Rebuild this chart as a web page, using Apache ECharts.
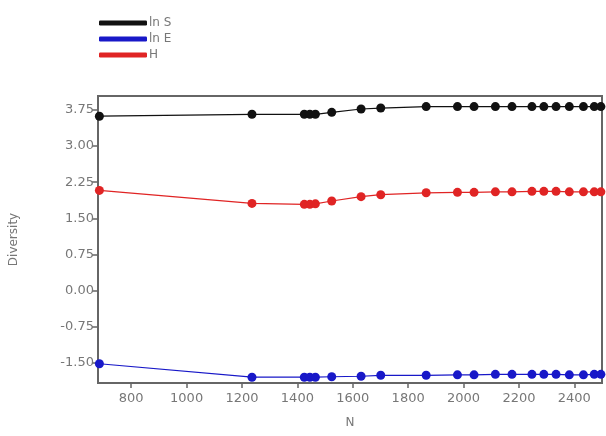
<!DOCTYPE html>
<html>
<head>
<meta charset="utf-8">
<script src="https://cdn.jsdelivr.net/npm/echarts@6/dist/echarts.min.js"></script>
<style>
  html, body { margin: 0; padding: 0; background: #fff; }
  #chart { width: 606px; height: 436px; }
</style>
</head>
<body>
<div id="chart"></div>
<script>
// N values (x axis)
const nValues = [685, 1236, 1425, 1445, 1465, 1524, 1630, 1701, 1865, 1978, 2038, 2115, 2175, 2247, 2290, 2334, 2382, 2433, 2472, 2496];
// series values
const lnS = [3.62, 3.66, 3.66, 3.66, 3.66, 3.70, 3.77, 3.79, 3.82, 3.82, 3.82, 3.82, 3.82, 3.82, 3.82, 3.82, 3.82, 3.82, 3.82, 3.82];
const lnE = [-1.52, -1.80, -1.80, -1.80, -1.80, -1.79, -1.78, -1.76, -1.76, -1.75, -1.75, -1.74, -1.74, -1.74, -1.74, -1.74, -1.75, -1.75, -1.74, -1.74];
const hValues = [2.08, 1.81, 1.79, 1.79, 1.80, 1.86, 1.95, 1.99, 2.03, 2.04, 2.04, 2.05, 2.05, 2.06, 2.06, 2.06, 2.05, 2.05, 2.05, 2.05];
const seriesNames = ['ln S', 'ln E', 'H'];
// tick labels
const xTicks = [800, 1000, 1200, 1400, 1600, 1800, 2000, 2200, 2400];
const yTicks = [-1.5, -0.75, 0, 0.75, 1.5, 2.25, 3.0, 3.75];

const pairs = vals => nValues.map((n, i) => [n, vals[i]]);

const chart = echarts.init(document.getElementById('chart'));

function lineSeries(name, vals, color) {
  return {
    name: name,
    type: 'line',
    data: pairs(vals),
    symbol: 'circle',
    symbolSize: 9,
    itemStyle: { color: color },
    lineStyle: { color: color, width: 1.2 },
    z: 3
  };
}

chart.setOption({
  animation: false,
  legend: {
    orient: 'vertical',
    left: 94,
    top: 12,
    itemWidth: 48,
    itemHeight: 5,
    itemGap: 4,
    icon: 'roundRect',
    textStyle: { color: '#777', fontSize: 12, fontFamily: 'DejaVu Sans', padding: [0, 0, 0, -3] },
    data: seriesNames
  },
  grid: {
    left: 98, right: 4, top: 96, bottom: 53,
    show: true, borderColor: '#666', borderWidth: 2, backgroundColor: '#fff'
  },
  xAxis: {
    type: 'value',
    min: 680, max: 2500,
    name: 'N',
    nameLocation: 'middle',
    nameGap: 34,
    nameTextStyle: { color: '#777', fontSize: 12, fontFamily: 'DejaVu Sans' },
    splitLine: { show: false },
    axisLine: { show: true, onZero: false, lineStyle: { color: '#666', width: 2 } },
    axisTick: { show: true, length: 5, customValues: xTicks, lineStyle: { color: '#666', width: 1.5 } },
    axisLabel: {
      customValues: xTicks,
      formatter: v => String(v),
      color: '#777', fontSize: 13, fontFamily: 'DejaVu Sans', margin: 9
    }
  },
  yAxis: {
    type: 'value',
    min: -1.92, max: 4.04,
    name: 'Diversity',
    nameLocation: 'middle',
    nameGap: 78,
    nameTextStyle: { color: '#777', fontSize: 12, fontFamily: 'DejaVu Sans' },
    splitLine: { show: false },
    axisLine: { show: true, onZero: false, lineStyle: { color: '#666', width: 2 } },
    axisTick: { show: true, length: 6, customValues: yTicks, lineStyle: { color: '#666', width: 1.5 } },
    axisLabel: {
      customValues: yTicks,
      formatter: v => v.toFixed(2),
      color: '#777', fontSize: 13, fontFamily: 'DejaVu Sans', margin: 4
    }
  },
  series: [
    lineSeries(seriesNames[0], lnS, '#111111'),
    lineSeries(seriesNames[1], lnE, '#1818c8'),
    lineSeries(seriesNames[2], hValues, '#e02424')
  ]
});
</script>
</body>
</html>
